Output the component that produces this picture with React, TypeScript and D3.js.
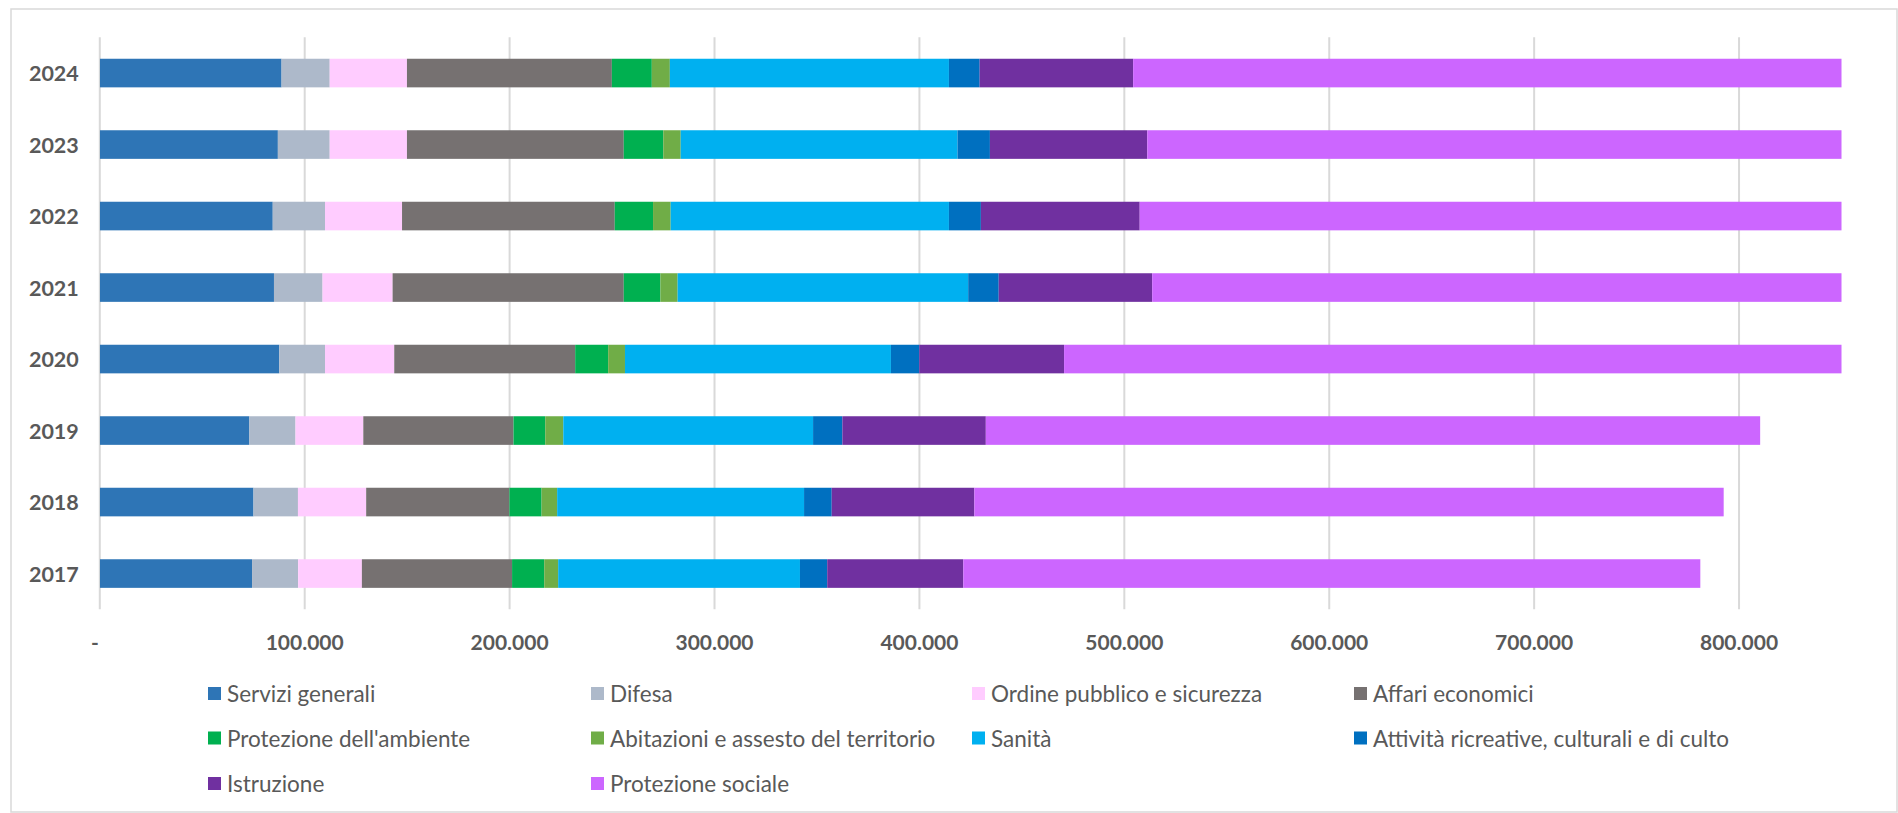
import React from "react";
import * as d3 from "d3";

const years = ["2024", "2023", "2022", "2021", "2020", "2019", "2018", "2017"];

const seriesNames = [
  "Servizi generali",
  "Difesa",
  "Ordine pubblico e sicurezza",
  "Affari economici",
  "Protezione dell'ambiente",
  "Abitazioni e assesto del territorio",
  "Sanità",
  "Attività ricreative, culturali e di culto",
  "Istruzione",
  "Protezione sociale",
];

const seriesColors = [
  "#2E75B6",
  "#ADB9CA",
  "#FFCCFF",
  "#767171",
  "#00B050",
  "#70AD47",
  "#00B0F0",
  "#0070C0",
  "#7030A0",
  "#CC66FF",
];

// values in order of years above (2024 ... 2017)
const serviziGenerali = [88700, 86900, 84400, 85000, 87600, 73000, 75000, 74300];
const difesa = [23500, 25300, 25500, 23700, 22300, 22500, 21700, 22500];
const ordinePubblico = [37700, 37700, 37600, 34200, 33800, 33100, 33300, 31100];
const affariEconomici = [100000, 105800, 103800, 112800, 88300, 73300, 69900, 73300];
const protezioneAmbiente = [19500, 19300, 18700, 17900, 16100, 15500, 15700, 15700];
const abitazioni = [8800, 8500, 8600, 8400, 8200, 8800, 7600, 6800];
const sanita = [136200, 135100, 135800, 141800, 129800, 121900, 120500, 118000];
const attivitaRicreative = [15000, 15800, 15600, 14900, 13800, 14300, 13500, 13300];
const istruzione = [74900, 76800, 77500, 74900, 70700, 70000, 69600, 66400];
const protezioneSociale = [456000, 438000, 421000, 412000, 410000, 377900, 365700, 359700];

const seriesValues = [
  serviziGenerali,
  difesa,
  ordinePubblico,
  affariEconomici,
  protezioneAmbiente,
  abitazioni,
  sanita,
  attivitaRicreative,
  istruzione,
  protezioneSociale,
];

const xTicks = [0, 100000, 200000, 300000, 400000, 500000, 600000, 700000, 800000];
const xMax = 850000;

const W = 1898;
const H = 813;
const plotLeft = 99.8;
const plotRight = 1841.5;
const plotTop = 37.3;
const plotBottom = 609.3;
const textColor = "#595959";
const font = "Lato, 'Open Sans', sans-serif";

const fmt = (v: number) => {
  if (v === 0) return "-";
  return d3.format(",")(v).replace(/,/g, ".");
};

export default function App() {
  const x = d3.scaleLinear().domain([0, xMax]).range([plotLeft, plotRight]);
  const y = d3
    .scaleBand<string>()
    .domain(years)
    .range([plotTop, plotBottom])
    .paddingInner(0.6)
    .paddingOuter(0.3);

  const rows = years.map((yr, i) => {
    const obj: Record<string, number | string> = { year: yr };
    seriesNames.forEach((s, j) => {
      obj[s] = seriesValues[j][i];
    });
    return obj;
  });
  const stack = d3.stack<Record<string, number | string>>().keys(seriesNames)(rows as any);

  const legendCols = [208, 591, 972, 1354];
  const legendRows = [693.5, 738, 783.5];

  return (
    <svg
      width={W}
      height={H}
      style={{ position: "fixed", left: 0, top: 0, background: "#fff" }}
      fontFamily={font}
    >
      <defs>
        <clipPath id="plotClip">
          <rect x={plotLeft} y={0} width={plotRight - plotLeft} height={H} />
        </clipPath>
      </defs>
      <rect x={0} y={0} width={W} height={H} fill="#fff" />
      <rect x={11} y={9} width={W - 12} height={H - 10} fill="none" stroke="#d9d9d9" strokeWidth={1.5} />

      {xTicks.map((t) => (
        <line
          key={"g" + t}
          x1={x(t)}
          x2={x(t)}
          y1={plotTop}
          y2={plotBottom}
          stroke="#d9d9d9"
          strokeWidth={2}
        />
      ))}

      <g clipPath="url(#plotClip)">
        {stack.map((layer, j) =>
          layer.map((d, i) => (
            <rect
              key={j + "-" + i}
              x={x(d[0])}
              y={y(years[i])}
              width={Math.max(0, x(d[1]) - x(d[0]))}
              height={y.bandwidth()}
              fill={seriesColors[j]}
            />
          ))
        )}
      </g>

      {years.map((yr) => (
        <text
          key={"y" + yr}
          x={plotLeft - 21}
          y={(y(yr) as number) + y.bandwidth() / 2}
          textAnchor="end"
          dominantBaseline="central"
          fontSize={21.5}
          fontWeight="bold"
          fill={textColor}
        >
          {yr}
        </text>
      ))}

      {xTicks.map((t) => (
        <text
          key={"t" + t}
          x={t === 0 ? x(t) - 5 : x(t)}
          y={641}
          textAnchor="middle"
          dominantBaseline="central"
          fontSize={21}
          fontWeight="bold"
          fill={textColor}
        >
          {fmt(t)}
        </text>
      ))}

      {seriesNames.map((s, j) => {
        const col = j % 4;
        const row = Math.floor(j / 4);
        const lx = legendCols[col];
        const ly = legendRows[row];
        return (
          <g key={"l" + s}>
            <rect x={lx} y={ly - 6.5} width={13} height={13} fill={seriesColors[j]} />
            <text
              x={lx + 19}
              y={ly}
              dominantBaseline="central"
              fontSize={22.5}
              fill={textColor}
            >
              {s}
            </text>
          </g>
        );
      })}
    </svg>
  );
}
